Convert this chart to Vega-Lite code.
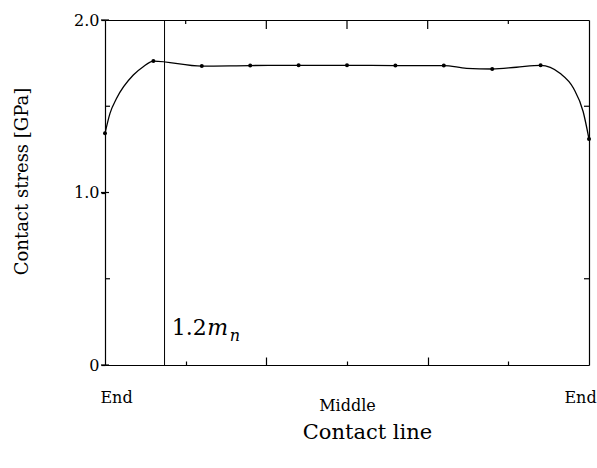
{
  "$schema": "https://vega.github.io/schema/vega-lite/v6.json",
  "width": 484,
  "height": 345,
  "autosize": "none",
  "padding": {"left": 105, "top": 20, "right": 8, "bottom": 103},
  "background": "white",
  "config": {
    "view": {"stroke": null},
    "font": "DejaVu Serif",
    "axis": {"domainColor": "black", "tickColor": "black", "labelColor": "black", "titleColor": "black", "grid": false, "labelFont": "DejaVu Serif", "titleFont": "DejaVu Serif", "titleFontWeight": "normal", "domainWidth": 1.2, "tickWidth": 1.2}
  },
  "datasets": {
    "points": [
      {"pos": 0.0, "stress": 1.343},
      {"pos": 0.1, "stress": 1.762},
      {"pos": 0.2, "stress": 1.733},
      {"pos": 0.3, "stress": 1.736},
      {"pos": 0.4, "stress": 1.737},
      {"pos": 0.5, "stress": 1.737},
      {"pos": 0.6, "stress": 1.736},
      {"pos": 0.7, "stress": 1.736},
      {"pos": 0.8, "stress": 1.716},
      {"pos": 0.9, "stress": 1.737},
      {"pos": 1.0, "stress": 1.31}
    ],
    "curve": [
      {"pos": 0.0, "stress": 1.343},
      {"pos": 0.0103, "stress": 1.459},
      {"pos": 0.024, "stress": 1.546},
      {"pos": 0.0585, "stress": 1.681},
      {"pos": 0.079, "stress": 1.729},
      {"pos": 0.1, "stress": 1.762},
      {"pos": 0.2, "stress": 1.733},
      {"pos": 0.3, "stress": 1.736},
      {"pos": 0.4, "stress": 1.737},
      {"pos": 0.5, "stress": 1.737},
      {"pos": 0.6, "stress": 1.736},
      {"pos": 0.7, "stress": 1.736},
      {"pos": 0.747, "stress": 1.72},
      {"pos": 0.8, "stress": 1.716},
      {"pos": 0.85, "stress": 1.726},
      {"pos": 0.9, "stress": 1.737},
      {"pos": 0.94, "stress": 1.691},
      {"pos": 0.968, "stress": 1.604},
      {"pos": 0.988, "stress": 1.468},
      {"pos": 1.0, "stress": 1.31}
    ],
    "marker": [{"pos": 0.123}],
    "label_num": [{"pos": 0.138, "stress": 0.174, "text": "1.2"}],
    "label_m": [{"pos": 0.2115, "stress": 0.174, "text": "m"}],
    "label_n": [{"pos": 0.258, "stress": 0.14, "text": "n"}],
    "top_ticks": [
      {"pos": 0.1667, "stress": 2, "kind": "short"},
      {"pos": 0.3333, "stress": 2, "kind": "long"},
      {"pos": 0.5, "stress": 2, "kind": "long"},
      {"pos": 0.6667, "stress": 2, "kind": "long"},
      {"pos": 0.8333, "stress": 2, "kind": "short"}
    ],
    "left_minor": [
      {"pos": 0, "stress": 0.5},
      {"pos": 0, "stress": 1.5}
    ],
    "right_minor": [
      {"pos": 1, "stress": 0.5},
      {"pos": 1, "stress": 1.5}
    ],
    "left_major": [
      {"pos": 0, "stress": 0},
      {"pos": 0, "stress": 1},
      {"pos": 0, "stress": 2}
    ]
  },
  "layer": [
    {
      "data": {"name": "points"},
      "mark": {"type": "point", "filled": true, "color": "black", "size": 16, "opacity": 1},
      "encoding": {
        "x": {"field": "pos", "type": "quantitative", "scale": {"domain": [0, 1], "nice": false, "zero": false},
          "axis": {"orient": "top", "ticks": false, "labels": false, "title": null, "domain": true}},
        "y": {"field": "stress", "type": "quantitative", "scale": {"domain": [0, 2], "nice": false},
          "axis": {"orient": "right", "ticks": false, "labels": false, "title": null, "domain": true}}
      }
    },
    {
      "data": {"name": "curve"},
      "mark": {"type": "line", "interpolate": "monotone", "color": "black", "strokeWidth": 1.3},
      "encoding": {
        "x": {"field": "pos", "type": "quantitative",
          "axis": {"orient": "bottom", "values": [0, 0.1667, 0.3333, 0.5, 0.6667, 0.8333, 1],
            "tickSize": {"condition": [{"test": "datum.value < 0.01 || datum.value > 0.99", "value": 0}, {"test": "abs(datum.value - 0.3333) < 0.01 || abs(datum.value - 0.6667) < 0.01", "value": -8}], "value": -4},
            "labelExpr": "datum.value < 0.01 || datum.value > 0.99 ? 'End' : (abs(datum.value - 0.5) < 0.01 ? 'Middle' : '')",
            "labelPadding": {"condition": {"test": "abs(datum.value - 0.5) < 0.01", "value": 44}, "value": 32},
            "labelOffset": {"condition": [{"test": "datum.value < 0.01", "value": 11}, {"test": "datum.value > 0.99", "value": -9}], "value": 0},
            "labelFontSize": 16, "labelFlush": false, "labelOverlap": false, "labelBound": false,
            "labelBaseline": "middle",
            "title": "Contact line", "titleFontSize": 21, "titleX": 262, "titleY": 67, "titleBaseline": "middle", "titleAnchor": "middle", "titleAlign": "center"}},
        "y": {"field": "stress", "type": "quantitative",
          "axis": {"orient": "left", "values": [0, 1, 2], "tickSize": 4,
            "labelExpr": "datum.value == 0 ? '0' : (datum.value == 1 ? '1.0' : '2.0')",
            "labelPadding": 2, "labelFontSize": 16, "labelOverlap": false, "labelBound": false, "labelFlush": false,
            "title": "Contact stress [GPa]", "titleFontSize": 18, "titleAngle": 270, "titleX": -83, "titleY": 161, "titleBaseline": "middle", "titleAlign": "center", "titleAnchor": "middle"}}
      }
    },
    {
      "data": {"name": "top_ticks"},
      "transform": [{"filter": "datum.kind == 'short'"}],
      "mark": {"type": "tick", "orient": "vertical", "color": "black", "thickness": 1.2, "size": 4, "yOffset": 2, "opacity": 1},
      "encoding": {
        "x": {"field": "pos", "type": "quantitative", "axis": null},
        "y": {"field": "stress", "type": "quantitative", "axis": null}
      }
    },
    {
      "data": {"name": "top_ticks"},
      "transform": [{"filter": "datum.kind == 'long'"}],
      "mark": {"type": "tick", "orient": "vertical", "color": "black", "thickness": 1.2, "size": 9, "yOffset": 4.5, "opacity": 1},
      "encoding": {
        "x": {"field": "pos", "type": "quantitative", "axis": null},
        "y": {"field": "stress", "type": "quantitative", "axis": null}
      }
    },
    {
      "data": {"name": "left_minor"},
      "mark": {"type": "tick", "orient": "horizontal", "color": "black", "thickness": 1.2, "size": 5, "xOffset": 2.5, "opacity": 1},
      "encoding": {
        "x": {"field": "pos", "type": "quantitative", "axis": null},
        "y": {"field": "stress", "type": "quantitative", "axis": null}
      }
    },
    {
      "data": {"name": "right_minor"},
      "mark": {"type": "tick", "orient": "horizontal", "color": "black", "thickness": 1.2, "size": 5, "xOffset": -2.5, "opacity": 1},
      "encoding": {
        "x": {"field": "pos", "type": "quantitative", "axis": null},
        "y": {"field": "stress", "type": "quantitative", "axis": null}
      }
    },
    {
      "data": {"name": "left_major"},
      "mark": {"type": "tick", "orient": "horizontal", "color": "black", "thickness": 1.2, "size": 8, "opacity": 1},
      "encoding": {
        "x": {"field": "pos", "type": "quantitative", "axis": null},
        "y": {"field": "stress", "type": "quantitative", "axis": null}
      }
    },
    {
      "data": {"name": "marker"},
      "mark": {"type": "rule", "color": "black", "strokeWidth": 1},
      "encoding": {
        "x": {"field": "pos", "type": "quantitative", "axis": null}
      }
    },
    {
      "data": {"name": "label_num"},
      "mark": {"type": "text", "align": "left", "baseline": "alphabetic", "font": "DejaVu Serif", "fontSize": 22, "color": "black"},
      "encoding": {
        "x": {"field": "pos", "type": "quantitative", "axis": null},
        "y": {"field": "stress", "type": "quantitative", "axis": null},
        "text": {"field": "text"}
      }
    },
    {
      "data": {"name": "label_m"},
      "mark": {"type": "text", "align": "left", "baseline": "alphabetic", "font": "DejaVu Serif", "fontStyle": "italic", "fontSize": 22, "color": "black"},
      "encoding": {
        "x": {"field": "pos", "type": "quantitative", "axis": null},
        "y": {"field": "stress", "type": "quantitative", "axis": null},
        "text": {"field": "text"}
      }
    },
    {
      "data": {"name": "label_n"},
      "mark": {"type": "text", "align": "left", "baseline": "alphabetic", "font": "DejaVu Serif", "fontStyle": "italic", "fontSize": 16, "color": "black"},
      "encoding": {
        "x": {"field": "pos", "type": "quantitative", "axis": null},
        "y": {"field": "stress", "type": "quantitative", "axis": null},
        "text": {"field": "text"}
      }
    }
  ],
  "resolve": {"axis": {"x": "independent", "y": "independent"}}
}
